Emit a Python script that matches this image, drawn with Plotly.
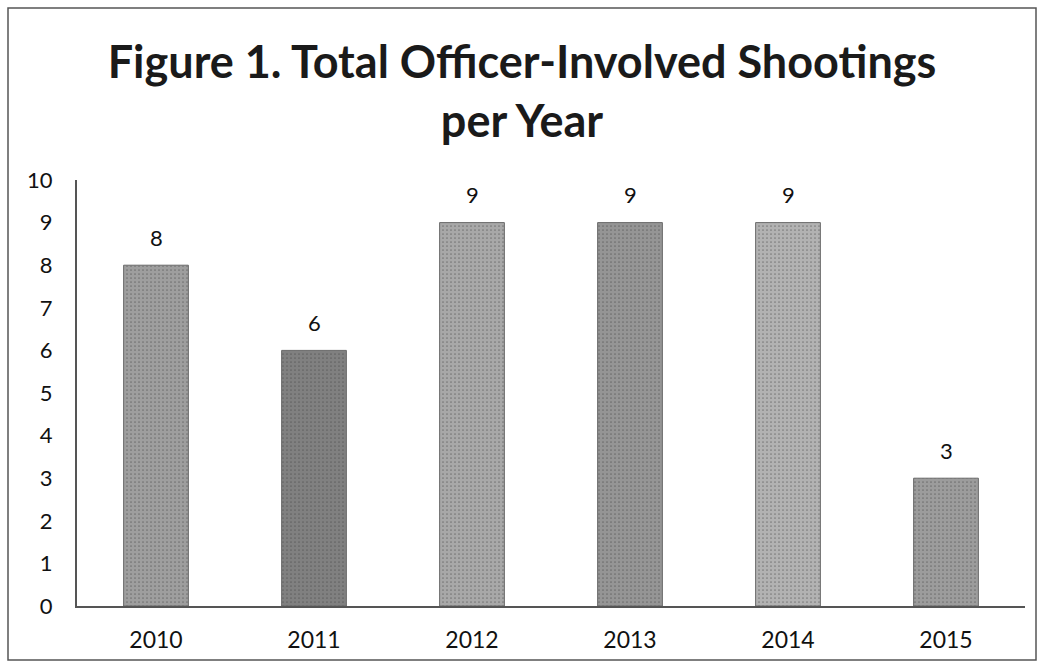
import plotly.graph_objects as go

years = ["2010", "2011", "2012", "2013", "2014", "2015"]
shootings = [8, 6, 9, 9, 9, 3]
bar_colors = ["#9e9e9e", "#808080", "#a8a8a8", "#959595", "#b2b2b2", "#9c9c9c"]
y_ticks = [0, 1, 2, 3, 4, 5, 6, 7, 8, 9, 10]

FONT = "Lato, Carlito, sans-serif"

fig = go.Figure(go.Bar(
    x=years, y=shootings,
    marker=dict(color=bar_colors, line=dict(color="#6a6a6a", width=1),
                pattern=dict(shape=".", fgcolor="#d8d8d8", size=4, solidity=0.15)),
    width=0.41,
))

# category axis: annotations positioned by category index
for i, v in enumerate(shootings):
    fig.add_annotation(x=i, y=v, text=str(v), showarrow=False, yanchor="middle",
                       yshift=28, font=dict(family=FONT, size=22, color="#111"))

L, R, T, B = 77, 19, 180, 63
W, H = 1044, 669
pw, ph = W - L - R, H - T - B

fig.update_layout(
    width=W, height=H,
    margin=dict(l=L, r=R, t=T, b=B),
    paper_bgcolor="white", plot_bgcolor="white",
    title=dict(text="Figure 1. Total Officer-Involved Shootings<br>per Year",
               x=0.5, xanchor="center", y=1 - 78 / H, yanchor="middle",
               font=dict(family=FONT, size=45, color="#1a1a1a", weight="bold")),
    font=dict(family=FONT, size=22, color="#111"),
    showlegend=False,
    bargap=0.59,
)
fig.update_xaxes(type="category", range=[-0.5, len(years) - 0.5], showline=True,
                 linecolor="#555", linewidth=2, ticks="",
                 showgrid=False, ticklabelstandoff=12, tickfont=dict(size=23))
fig.update_yaxes(range=[0, 10], tickvals=y_ticks, showline=True, linecolor="#555", linewidth=2,
                 ticks="", showgrid=False, zeroline=False, ticklabelstandoff=18,
                 tickfont=dict(size=22))

fig.add_shape(type="rect", xref="paper", yref="paper",
              x0=(8 - L) / pw, x1=(1036 - L) / pw,
              y0=(T + ph - 660) / ph, y1=(T + ph - 8) / ph,
              line=dict(color="#555", width=1.5), fillcolor="rgba(0,0,0,0)")

fig.write_html("out.html")
